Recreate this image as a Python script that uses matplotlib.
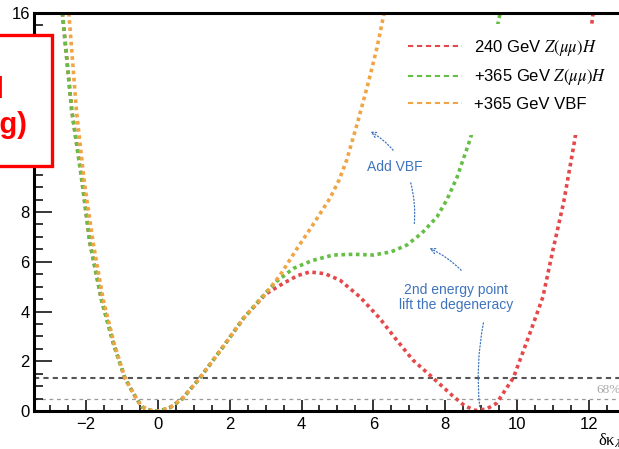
import numpy as np
import matplotlib.pyplot as plt
from matplotlib.lines import Line2D
from matplotlib.patches import Rectangle
from matplotlib.ticker import MultipleLocator

plt.rcParams['font.family'] = ['Liberation Sans', 'DejaVu Sans']
plt.rcParams['mathtext.fontset'] = 'stix'

# 240 GeV Z(mumu)H
x_red = [-2.66, -2.40, -2.13, -1.89, -1.57, -1.24, -0.92, -0.68, -0.45, -0.2, 0.05, 0.35, 0.67, 1.17, 1.8,
         2.38, 3.0, 3.49, 3.9, 4.23, 4.65, 5.07, 5.63, 6.18, 6.65, 7.1, 7.66, 8.2, 8.55, 8.85, 9.15, 9.43,
         9.9, 10.36, 10.72, 11.0, 11.3, 11.56, 11.85, 12.12]
y_red = [16.0, 12.1, 9.41, 6.74, 4.46, 2.72, 1.33, 0.7, 0.17, 0.02, 0.0, 0.15, 0.48, 1.33, 2.55,
         3.72, 4.7, 5.13, 5.45, 5.59, 5.52, 5.26, 4.58, 3.72, 2.85, 2.05, 1.33, 0.62, 0.2, 0.02, 0.08, 0.31,
         1.34, 3.13, 4.58, 6.47, 8.4, 10.5, 13.0, 16.0]

# +365 GeV Z(mumu)H
x_green = [-2.66, -2.40, -2.13, -1.89, -1.57, -1.24, -0.92, -0.68, -0.45, -0.2, 0.05, 0.35, 0.67, 1.17, 1.8,
           2.38, 3.0, 3.3, 3.77, 4.3, 4.88, 5.45, 6.0, 6.5, 6.93, 7.35, 7.77, 8.05, 8.33, 8.69, 9.0, 9.3, 9.56]
y_green = [16.0, 12.1, 9.41, 6.74, 4.46, 2.72, 1.33, 0.7, 0.17, 0.02, 0.0, 0.15, 0.48, 1.33, 2.55,
           3.72, 4.75, 5.2, 5.73, 6.05, 6.27, 6.3, 6.27, 6.4, 6.67, 7.15, 7.8, 8.5, 9.4, 10.9, 12.5, 14.4, 16.2]

# +365 GeV VBF
x_orange = [-2.48, -2.27, -2.05, -1.80, -1.52, -1.22, -0.92, -0.68, -0.45, -0.2, 0.05, 0.35, 0.67, 1.17, 1.8,
            2.38, 3.0, 3.4, 3.86, 4.3, 4.79, 5.05, 5.26, 5.56, 5.86, 6.1, 6.3]
y_orange = [16.0, 12.1, 9.2, 6.74, 4.46, 2.72, 1.33, 0.7, 0.17, 0.02, 0.0, 0.15, 0.48, 1.33, 2.55,
            3.72, 4.72, 5.45, 6.5, 7.45, 8.55, 9.3, 10.1, 11.6, 13.2, 14.6, 16.0]

labels = ['240 GeV $Z(\\mu\\mu)H$', '+365 GeV $Z(\\mu\\mu)H$', '+365 GeV VBF']
colors = ['#e5484a', '#66bf45', '#f0a444']
cl_levels = [1.33, 0.48]
xticks = [-2, 0, 2, 4, 6, 8, 10, 12]
xticklabels = ['\u22122', '0', '2', '4', '6', '8', '10', '12']
yticks = [0, 2, 4, 6, 8, 10, 12, 14, 16]
yticklabels = ['0', '2', '4', '6', '8', '', '', '', '16']  # 10-14 sit under the red box

blue = '#3f74bd'

fig = plt.figure(figsize=(6.19, 4.49), dpi=100)
ax = fig.add_axes([34/619, 38/449, 585/619, 398/449])
ax.set_xlim(-3.45, 12.84)
ax.set_ylim(0, 16)

ax.axhline(cl_levels[0], color='#555555', lw=1.5, ls=(0, (2.5, 2)), zorder=1)
ax.axhline(cl_levels[1], color='#999999', lw=0.9, ls=(0, (3, 3)), zorder=1)

dot = (0, (1, 1))
ax.plot(x_red, y_red, color=colors[0], lw=2.6, ls=dot, zorder=2)
ax.plot(x_green, y_green, color=colors[1], lw=2.6, ls=dot, zorder=2)
ax.plot(x_orange, y_orange, color=colors[2], lw=2.6, ls=dot, zorder=2)

# white legend background
ax.add_patch(Rectangle((6.74, 11.1), 7, 4.45, facecolor='white', edgecolor='none', zorder=3))
handles = [Line2D([], [], color=c, lw=1.5, ls=(0, (2.5, 1.8))) for c in colors]
ax.legend(handles, labels, loc='upper left', bbox_to_anchor=(6.96, 15.0), bbox_transform=ax.transData,
          frameon=False, fontsize=12, handlelength=3.25, handletextpad=0.7, labelspacing=0.57,
          borderpad=0, borderaxespad=0).set_zorder(4)

ax.text(12.2, 0.85, '68%', family='Liberation Serif', fontsize=9.5, color='#aaaaaa', va='center', ha='left')

# annotations
ax.text(6.6, 9.8, 'Add VBF', color=blue, fontsize=10, ha='center', va='center')
ax.annotate('', xy=(5.85, 11.29), xytext=(6.6, 10.4),
            arrowprops=dict(arrowstyle='->', color=blue, lw=0.9, ls=':', connectionstyle='arc3,rad=0.1'))
ax.annotate('', xy=(7.13, 7.39), xytext=(7.02, 9.28),
            arrowprops=dict(arrowstyle='-', color=blue, lw=0.9, ls=':', connectionstyle='arc3,rad=-0.1'))
ax.text(8.31, 4.56, '2nd energy point\nlift the degeneracy', color=blue, fontsize=10,
        ha='center', va='center', linespacing=1.1)
ax.annotate('', xy=(7.49, 6.59), xytext=(8.5, 5.58),
            arrowprops=dict(arrowstyle='->', color=blue, lw=0.9, ls=':', connectionstyle='arc3,rad=0.1'))
ax.annotate('', xy=(8.97, 0.04), xytext=(9.08, 3.65),
            arrowprops=dict(arrowstyle='-', color=blue, lw=0.9, ls=':', connectionstyle='arc3,rad=0.08'))

# axes style (ROOT-like)
for s in ['left', 'bottom', 'top']:
    ax.spines[s].set_linewidth(2.2)
ax.spines['right'].set_visible(False)
ax.xaxis.set_minor_locator(MultipleLocator(0.5))
ax.yaxis.set_minor_locator(MultipleLocator(0.5))
ax.tick_params(axis='x', which='major', direction='in', length=8, width=1.1, labelsize=12, pad=4)
ax.tick_params(axis='x', which='minor', direction='in', length=4, width=1.1)
ax.tick_params(axis='y', which='major', direction='in', length=13, width=1.1, labelsize=12, pad=3)
ax.tick_params(axis='y', which='minor', direction='in', length=6.5, width=1.1)
ax.set_xticks(xticks)
ax.set_xticklabels(xticklabels)
ax.set_yticks(yticks)
ax.set_yticklabels(yticklabels)

fig.text(598/619, 8/449, '\u03b4\u03ba$_{\\lambda}$', family='Liberation Serif', fontsize=12, va='center', ha='left')

# red overlay box on the top left (cropped in the original)
fig.add_artist(Rectangle((-0.05, 0.630), 0.134, 0.292, transform=fig.transFigure,
                         facecolor='white', edgecolor='#ff0000', lw=2.4, zorder=10))
fig.text(-64/619, (449-139)/449, '(expected\nno smearing)', color='#ff0000', fontsize=21, fontweight='bold',
         ha='center', va='bottom', multialignment='center', linespacing=1.3, zorder=11)

fig.savefig('out.png', dpi=100)
